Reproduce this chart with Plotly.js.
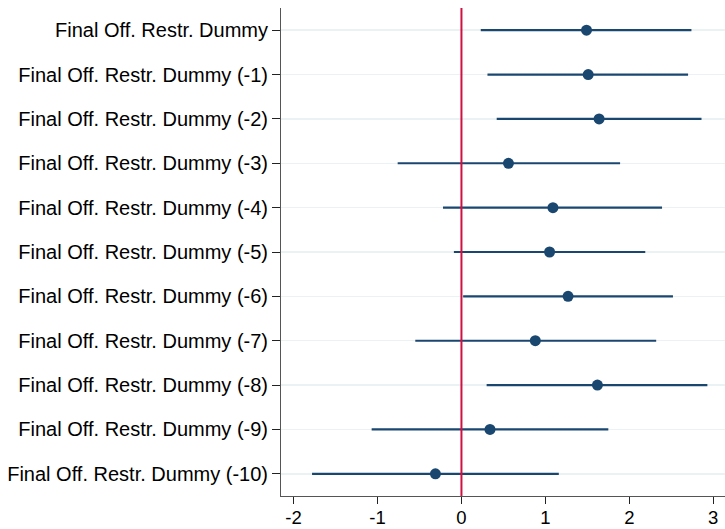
<!DOCTYPE html>
<html>
<head>
<meta charset="utf-8">
<script src="https://cdn.plot.ly/plotly-3.0.1.min.js"></script>
<style>html,body{margin:0;padding:0;background:#fff;}#chart{width:725px;height:529px;}</style>
</head>
<body>
<div id="chart"></div>
<script>
const labels = [
  "Final Off. Restr. Dummy",
  "Final Off. Restr. Dummy (-1)",
  "Final Off. Restr. Dummy (-2)",
  "Final Off. Restr. Dummy (-3)",
  "Final Off. Restr. Dummy (-4)",
  "Final Off. Restr. Dummy (-5)",
  "Final Off. Restr. Dummy (-6)",
  "Final Off. Restr. Dummy (-7)",
  "Final Off. Restr. Dummy (-8)",
  "Final Off. Restr. Dummy (-9)",
  "Final Off. Restr. Dummy (-10)"
];
const estimates = [1.49, 1.51, 1.64, 0.56, 1.09, 1.05, 1.27, 0.88, 1.62, 0.34, -0.31];
const lower = [0.23, 0.31, 0.42, -0.76, -0.22, -0.09, 0.02, -0.55, 0.30, -1.07, -1.78];
const upper = [2.74, 2.70, 2.86, 1.89, 2.39, 2.19, 2.52, 2.32, 2.93, 1.75, 1.16];
const xTicks = [-2, -1, 0, 1, 2, 3];

const navy = "#1a476f";
const ypos = labels.map((_, i) => i);

const traces = [];
labels.forEach((lab, i) => {
  traces.push({
    type: "scatter", mode: "lines",
    x: [lower[i], upper[i]], y: [i, i],
    line: {color: navy, width: 2.2},
    hoverinfo: "skip", showlegend: false
  });
});
traces.push({
  type: "scatter", mode: "markers",
  x: estimates, y: ypos,
  marker: {color: navy, size: 11},
  showlegend: false
});

const layout = {
  width: 725, height: 529,
  margin: {l: 281, r: 0, t: 8, b: 33},
  paper_bgcolor: "#fff", plot_bgcolor: "#fff",
  font: {family: "Liberation Sans, Arial, sans-serif", size: 20, color: "#000"},
  xaxis: {
    range: [-2.15, 3.14], tickvals: xTicks, ticktext: xTicks.map(String),
    showgrid: false, zeroline: false,
    showline: true, linecolor: "#555", linewidth: 1,
    ticks: "outside", ticklen: 7, tickcolor: "#222", tickwidth: 1,
    tickfont: {size: 18.5}, ticklabelstandoff: -2
  },
  yaxis: {
    range: [10.5, -0.5], tickvals: ypos, ticktext: labels,
    showgrid: true, gridcolor: "#eaf2f3", gridwidth: 1.5,
    zeroline: false,
    showline: true, linecolor: "#555", linewidth: 1,
    ticks: "outside", ticklen: 8, tickcolor: "#222", tickwidth: 1,
    tickfont: {size: 20}
  },
  shapes: [{
    type: "line", xref: "x", yref: "paper",
    x0: 0, x1: 0, y0: 0, y1: 1,
    line: {color: "#d01040", width: 2}
  }]
};

Plotly.newPlot("chart", traces, layout, {displayModeBar: false, staticPlot: true});
</script>
</body>
</html>
